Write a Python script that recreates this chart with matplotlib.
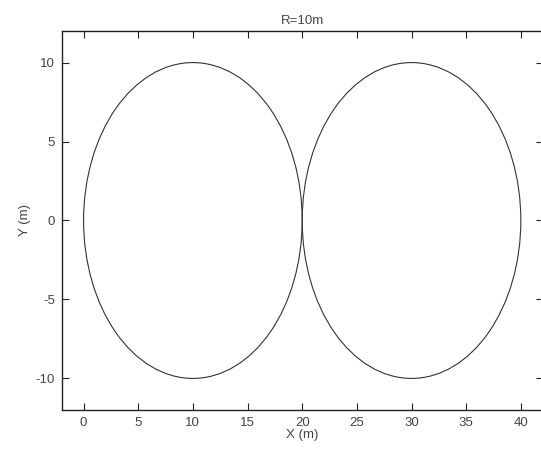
import matplotlib
matplotlib.use("Agg")
import matplotlib.pyplot as plt
from matplotlib.patches import Circle

# --- Data ---
RADIUS = 10
centre_x = [10, 30]
centre_y = [0, 0]
x_ticks = [0, 5, 10, 15, 20, 25, 30, 35, 40]
y_ticks = [-10, -5, 0, 5, 10]

plt.rcParams['font.family'] = ['Liberation Sans', 'DejaVu Sans']
plt.rcParams['font.size'] = 9.5
plt.rcParams['axes.unicode_minus'] = False

fig = plt.figure(figsize=(5.41, 4.53), dpi=100)
ax = fig.add_axes([61.7 / 541, 1 - 410 / 453, 481 / 541, 379 / 453])

for cx, cy in zip(centre_x, centre_y):
    ax.add_patch(Circle((cx, cy), RADIUS, fill=False, edgecolor='#333333', linewidth=0.8))

ax.set_xlim(-2, 42)
ax.set_ylim(-12, 12)
ax.set_xticks(x_ticks)
ax.set_yticks(y_ticks)
ax.tick_params(direction='in', length=5, width=0.8, pad=5, top=True, right=True,
               colors='#222222', labelcolor='#444444')
for s in ax.spines.values():
    s.set_linewidth(1.0)
    s.set_color('#222222')
# right edge of the box falls just past the figure edge
ax.spines['right'].set_visible(False)

ax.set_title('R=10m', fontsize=9.5, color='#444444', pad=5)
ax.set_xlabel('X (m)', color='#444444', labelpad=0)
ax.set_ylabel('Y (m)', color='#444444', labelpad=3)

plt.savefig('out.png', dpi=100)
